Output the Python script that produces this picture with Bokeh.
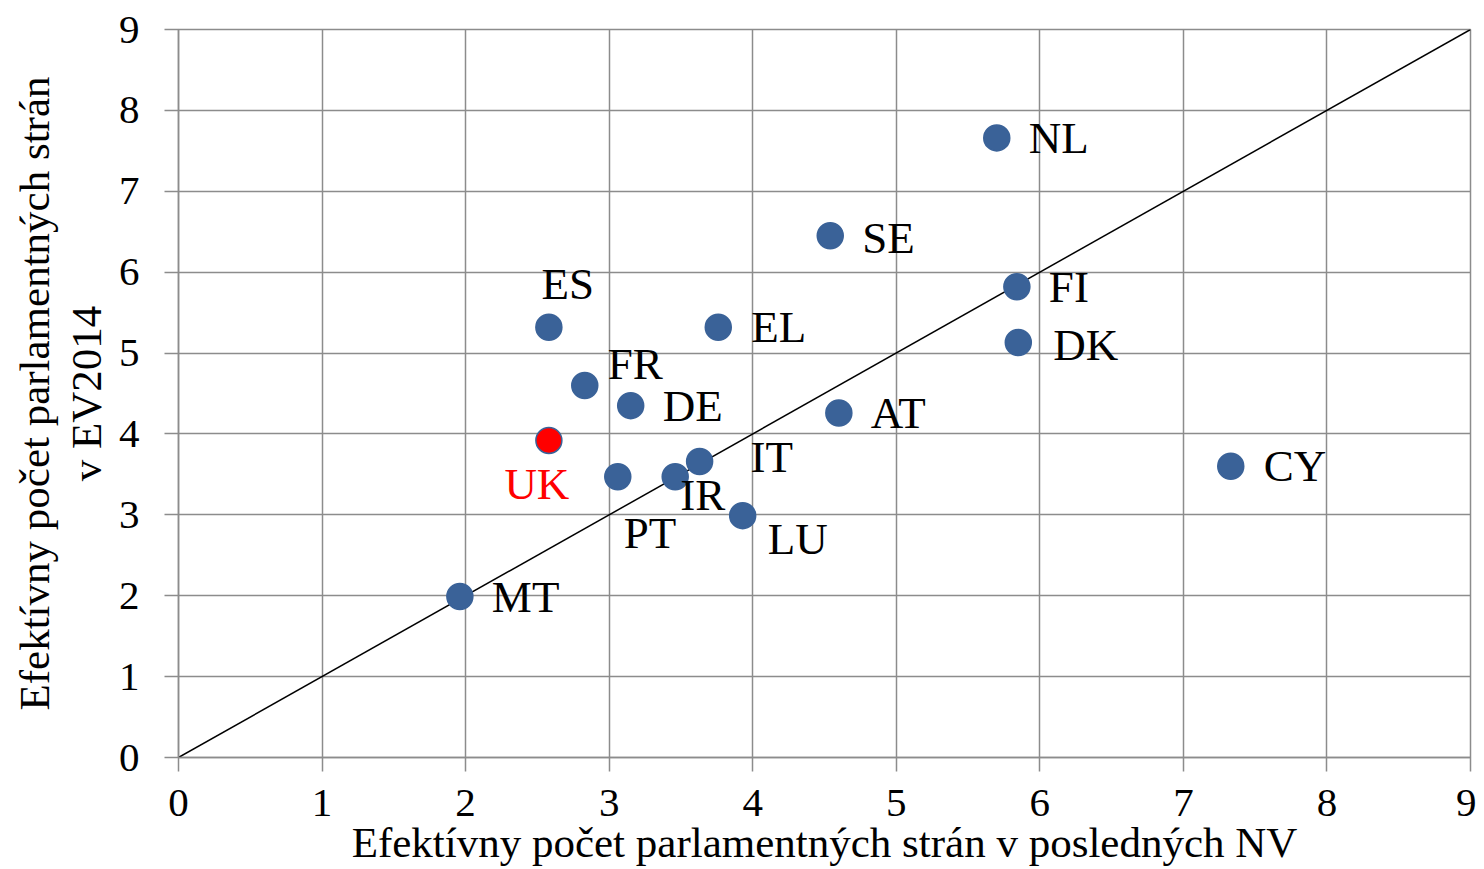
from bokeh.plotting import figure
from bokeh.models import ColumnDataSource, Range1d, FixedTicker, LinearAxis
from bokeh.core.properties import value
from bokeh.embed import file_html
from bokeh.resources import INLINE

countries = ["NL", "SE", "ES", "EL", "FI", "DK", "FR", "DE", "AT", "UK", "IT", "PT", "IR", "LU", "MT", "CY"]
nv_parties = [5.70, 4.54, 2.58, 3.76, 5.84, 5.85, 2.83, 3.15, 4.60, 2.58, 3.63, 3.06, 3.46, 3.93, 1.96, 7.33]
ev_parties = [7.66, 6.45, 5.32, 5.32, 5.82, 5.13, 4.60, 4.35, 4.26, 3.92, 3.66, 3.47, 3.47, 2.99, 1.99, 3.60]
ticks = [0, 1, 2, 3, 4, 5, 6, 7, 8, 9]
diag = [0, 9]
x_title = "Efektívny počet parlamentných strán v posledných NV"
y_title_1 = "Efektívny počet parlamentných strán"
y_title_2 = "v EV2014"

# label placement (pixels relative to the point)
label_dx = [32, 32, 19, 33, 32, 35, 23, 32, 32, -12, 51, 6, 5, 25, 32, 33]
label_dy = [0, -2, 43, 0, 0, -2, 21, 0, 0, -44, 4, -56, -18, -23, 0, 0]
label_align = ["left", "left", "center", "left", "left", "left", "left", "left", "left", "center",
               "left", "left", "left", "left", "left", "left"]

FONT = "Liberation Serif"
BLUE = "#3A6298"
GRID = "#8C8C8C"

colors = ["red" if c == "UK" else BLUE for c in countries]
text_colors = ["red" if c == "UK" else "black" for c in countries]

src = ColumnDataSource(dict(x=nv_parties, y=ev_parties, c=countries, col=colors, tcol=text_colors,
                            dx=label_dx, dy=[-d for d in label_dy], al=label_align))

p = figure(width=1476, height=868, output_backend="svg", toolbar_location=None,
           x_range=Range1d(0, 9), y_range=Range1d(0, 9),
           min_border_left=178, min_border_right=6, min_border_top=29, min_border_bottom=111)

p.line(diag, diag, line_color="black", line_width=1.5)
p.scatter("x", "y", source=src, size=26, fill_color="col", line_color=BLUE, line_width=1.5)
p.text("x", "y", text="c", source=src, x_offset="dx", y_offset="dy", text_align="al",
       text_baseline="middle", text_color="tcol", text_font=value(FONT), text_font_size="45px")

p.outline_line_color = GRID
p.outline_line_width = 1.5
for ax in (p.xaxis[0], p.yaxis[0]):
    ax.ticker = FixedTicker(ticks=ticks)
    ax.axis_line_color = GRID
    ax.axis_line_width = 1.5
    ax.major_tick_line_color = GRID
    ax.major_tick_line_width = 1.5
    ax.major_tick_out = 14
    ax.major_tick_in = 0
    ax.minor_tick_line_color = None
    ax.major_label_text_font = FONT
    ax.major_label_text_font_size = "41px"
    ax.major_label_text_color = "black"
    ax.axis_label_text_font = FONT
    ax.axis_label_text_font_size = "43px"
    ax.axis_label_text_font_style = "normal"
    ax.axis_label_text_color = "black"

p.xaxis.major_label_standoff = 18
p.yaxis.major_label_standoff = 25
p.xaxis.axis_label = x_title
p.yaxis.axis_label = y_title_2
p.xaxis.axis_label_standoff = 0
p.yaxis.axis_label_standoff = 6

# first line of the y title as an extra, label-only axis
ax2 = LinearAxis(axis_label=y_title_1, ticker=FixedTicker(ticks=[]),
                 axis_line_color=None, major_tick_line_color=None, minor_tick_line_color=None,
                 major_tick_out=0, major_tick_in=0, major_label_standoff=0,
                 major_label_text_font_size="1px", axis_label_standoff=2,
                 axis_label_text_font=FONT, axis_label_text_font_size="43px",
                 axis_label_text_font_style="normal", axis_label_text_color="black")
p.add_layout(ax2, "left")

for g in (p.xgrid[0], p.ygrid[0]):
    g.ticker = FixedTicker(ticks=ticks)
    g.grid_line_color = GRID
    g.grid_line_width = 1.5

p.background_fill_color = "white"
p.border_fill_color = "white"

open("out.html", "w").write(file_html(p, INLINE))
